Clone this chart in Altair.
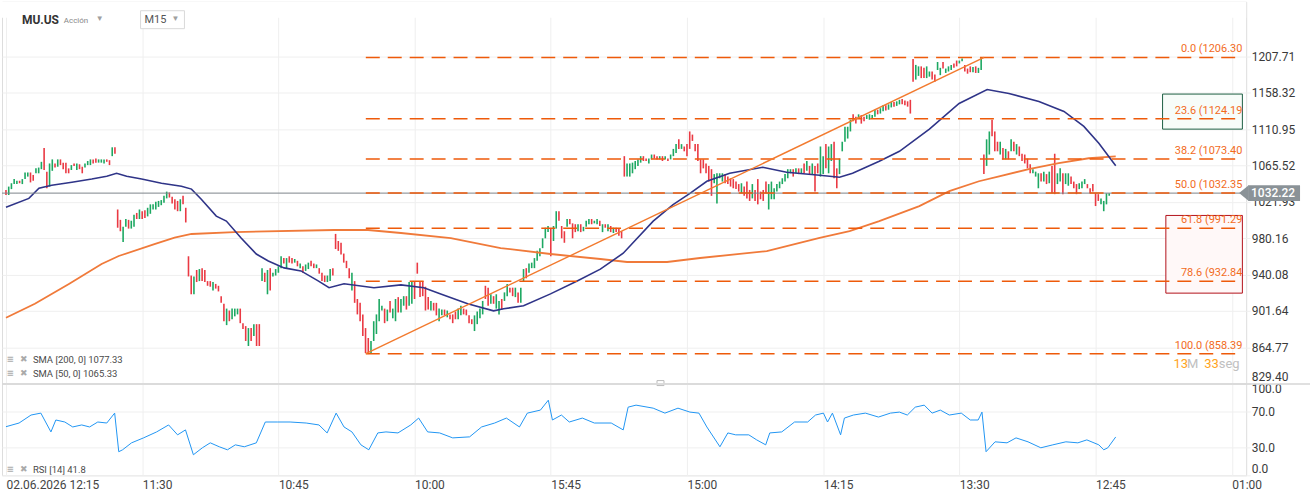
import json
import altair as alt
import pandas as pd

# ---------------- values ----------------
# 15-minute candles (open, close), in bar order
opens = [
    # session 1
    1036, 1030, 1037, 1043, 1043, 1047, 1043, 1049, 1052, 1057, 1054, 1056, 1056, 1061, 1087, 1058, 1040, 1059, 1068, 1064,
    1073, 1069, 1069, 1062, 1060, 1068, 1060, 1067, 1064, 1063, 1066, 1066, 1073, 1074, 1069, 1069, 1068, 1073, 1072, 1077, 1088,
    # session 2
    1013, 1001, 976, 993, 1001, 991, 993, 1009, 1002, 1011, 1012, 1005, 1008, 1013, 1013, 1016, 1018, 1021, 1026, 1033,
    1028, 1025, 1023, 1011, 1029, 1015,
    # session 3
    960, 939, 919, 945, 933, 947, 945, 933, 933, 923, 930, 928, 917, 909, 887, 902, 893, 896, 898, 904, 889, 886, 866, 884,
    876, 888, 888,
    # session 4
    933, 942, 919, 947, 938, 939, 942, 947, 958, 947, 960, 958, 953, 955, 947, 949, 944, 946, 955, 952, 947, 947, 942, 939,
    932, 933, 947,
    # session 5
    985, 977, 975, 963, 955, 947, 923, 933, 914, 910, 898, 884, 874, 859, 871, 878, 891, 902, 904, 891, 912, 894, 891, 916,
    900, 907, 917, 907, 909, 933, 953, 933, 933, 927, 916, 902, 910, 910, 891, 897, 903, 895,
    898, 898, 901, 893, 897, 904, 903, 897, 893, 881, 888, 894, 898, 928, 926, 909, 917, 904, 898, 914, 912, 917, 926, 926,
    916, 921, 910, 933, 947, 942, 947, 947, 955, 960, 969, 980, 987, 991, 977, 991, 1011, 994, 988, 993, 1002, 997, 996, 988,
    996, 988, 993, 996, 1002, 997, 996, 1000, 987, 996, 988, 994, 986, 992, 991, 988,
    # session 6
    1077, 1052, 1052, 1056, 1061, 1065, 1069, 1077, 1074, 1068, 1073, 1079, 1077, 1073, 1077, 1073, 1074, 1073, 1077, 1081,
    1098, 1086, 1089, 1092, 1108, 1104, 1092, 1092, 1073, 1073, 1068, 1065, 1061, 1044, 1020, 1050, 1046, 1055, 1052, 1050,
    1049, 1046, 1043, 1032, 1040, 1046, 1036, 1026, 1036, 1049, 1034, 1036, 1046, 1013, 1025, 1025, 1034, 1038, 1043, 1046,
    1050, 1056, 1061, 1056, 1062, 1056, 1068, 1059, 1065, 1055, 1065, 1068, 1052, 1055, 1092, 1056, 1071, 1095, 1062, 1055,
    1083, 1095, 1099, 1108, 1130, 1127, 1124, 1129, 1127, 1124, 1123, 1124,
    1127, 1136, 1131, 1134, 1142, 1136, 1139, 1146, 1141, 1143, 1150, 1148, 1147, 1149,
    # session 7
    1204, 1176, 1181, 1194, 1192, 1178, 1180, 1187, 1183, 1189, 1182, 1200, 1185, 1187, 1189, 1198, 1202, 1198, 1201, 1196,
    1191, 1194, 1186, 1194, 1185, 1189,
    # session 8
    1079, 1065, 1079, 1123, 1108, 1095, 1079, 1087, 1073, 1083, 1083, 1095, 1079, 1089, 1080, 1079, 1074, 1067, 1056, 1052,
    1038, 1056, 1046, 1055, 1044, 1065, 1080, 1043, 1046, 1056, 1043, 1041, 1052, 1046, 1043, 1037, 1038, 1043, 1043, 1038,
    1043, 1032, 1031, 1019, 1011, 1019, 1029,
]
closes = [
    # session 1
    1030, 1040, 1044, 1049, 1047, 1044, 1049, 1057, 1057, 1045, 1047, 1062, 1063, 1070, 1060, 1038, 1068, 1073, 1063, 1073,
    1066, 1061, 1056, 1056, 1066, 1065, 1068, 1061, 1056, 1068, 1071, 1073, 1068, 1069, 1073, 1073, 1073, 1070, 1066, 1088, 1080,
    # session 2
    992, 988, 993, 1002, 991, 1000, 1007, 1002, 1013, 1002, 1003, 1015, 1019, 1019, 1022, 1023, 1024, 1029, 1034, 1027,
    1020, 1013, 1011, 1025, 1019, 998,
    # session 3
    938, 919, 938, 932, 946, 933, 932, 928, 927, 932, 925, 922, 910, 891, 904, 891, 904, 904, 904, 889, 883, 871, 884, 871,
    888, 866, 866,
    # session 4
    947, 932, 945, 923, 942, 946, 949, 960, 952, 958, 953, 952, 957, 949, 952, 942, 951, 953, 949, 947, 951, 941, 933, 932,
    939, 946, 939,
    # session 5
    968, 966, 962, 953, 947, 936, 942, 910, 898, 891, 876, 859, 858, 871, 891, 898, 914, 907, 889, 903, 900, 904, 914, 900,
    914, 917, 903, 932, 933, 914, 941, 916, 917, 902, 903, 912, 902, 897, 904, 903, 897, 902,
    893, 889, 893, 904, 907, 898, 897, 889, 888, 897, 901, 904, 912, 914, 907, 919, 909, 919, 912, 903, 921, 930, 921, 917,
    926, 910, 926, 946, 936, 952, 953, 958, 966, 969, 980, 992, 994, 960, 994, 1011, 1000, 980, 975, 1002, 996, 980, 987, 996,
    987, 993, 1000, 1002, 996, 1000, 1002, 994, 996, 992, 996, 987, 992, 987, 983, 980,
    # session 6
    1052, 1068, 1068, 1069, 1071, 1073, 1077, 1071, 1071, 1074, 1079, 1074, 1073, 1077, 1071, 1077, 1071, 1079, 1086, 1092,
    1086, 1092, 1083, 1077, 1086, 1096, 1083, 1071, 1056, 1062, 1056, 1046, 1029, 1055, 1056, 1056, 1056, 1044, 1043, 1040,
    1038, 1037, 1034, 1044, 1029, 1026, 1023, 1043, 1023, 1019, 1025, 1023, 1032, 1043, 1046, 1038, 1043, 1046, 1050, 1055,
    1061, 1061, 1052, 1062, 1055, 1062, 1056, 1071, 1055, 1068, 1034, 1056, 1089, 1077, 1062, 1089, 1092, 1050, 1038, 1074,
    1095, 1114, 1114, 1123, 1121, 1118, 1130, 1118, 1121, 1129, 1130, 1129,
    1136, 1130, 1138, 1142, 1135, 1143, 1146, 1140, 1147, 1149, 1143, 1142, 1140, 1131,
    # session 7
    1173, 1196, 1194, 1178, 1178, 1194, 1187, 1176, 1173, 1200, 1192, 1191, 1191, 1194, 1196, 1192, 1194, 1202, 1205, 1187,
    1184, 1186, 1193, 1185, 1192, 1206,
    # session 8
    1055, 1098, 1108, 1102, 1083, 1083, 1095, 1073, 1086, 1073, 1098, 1083, 1092, 1077, 1071, 1068, 1062, 1056, 1061, 1058,
    1056, 1046, 1058, 1043, 1058, 1032, 1031, 1056, 1062, 1031, 1056, 1056, 1043, 1038, 1031, 1044, 1046, 1049, 1038, 1032,
    1034, 1017, 1023, 1026, 1023, 1032, 1032,
]

# moving averages (bar position, price)
sma200_i = [0, 10.6, 23.1, 35.1, 41.4, 54.5, 61.9, 68.1, 83.8, 120.4, 132.9, 145, 163.3, 181.6, 199.9, 218.2, 228,
            242.7, 254.8, 279.3, 298.7, 309.7, 320.6, 335.3, 346.3, 357.2, 364.6, 375.5, 386.5, 397.5, 407.4]
sma200_v = [894.5, 909, 930, 951.5, 960.3, 973.6, 980.8, 984.9, 987, 989.4, 989.4, 986, 980.2, 969.1, 962.5, 957, 953.7,
            953.7, 958.1, 965.8, 980.5, 988.2, 999.6, 1016.9, 1034.5, 1046.4, 1052.4, 1061, 1068.3, 1074.4, 1076.8]
sma50_i = [0, 8.4, 12.1, 16.8, 24.2, 31.5, 37, 40.6, 44.3, 49.8, 57.1, 64.4, 68.1, 71.7, 77.2, 80.9, 86.4, 91.9, 96.3,
           102.1, 108.3, 114.6, 118.6, 124.1, 135.1, 145, 153.4, 159.6, 169.5, 179, 182.7, 190, 199.9, 209.7, 218.2,
           226.6, 237.6, 244.9, 251.1, 257.3, 265.7, 277.8, 286.6, 298.7, 306, 310.8, 320.6, 328, 339, 349.9, 360.2,
           368.2, 379.2, 388.4, 395.7, 401.2, 407.4]
sma50_v = [1015.7, 1026, 1038, 1041.7, 1045.2, 1049, 1052.4, 1056, 1052.4, 1049, 1044, 1040.5, 1037, 1025, 1005.3,
           999.6, 980.1, 962.5, 954.8, 947.3, 944, 933.2, 925.9, 930.1, 925.9, 929, 925.9, 919.4, 909, 901.7, 903.8,
           906.9, 919.4, 933.2, 945.9, 963.4, 999.6, 1018.6, 1032, 1046.4, 1056, 1063.4, 1057.3, 1053.6, 1051.2, 1056,
           1070.7, 1083, 1111, 1144.2, 1162.6, 1157.3, 1146.8, 1133.8, 1114.5, 1093, 1065.3]

# RSI(14)
rsi_i = [0, 4.8, 9.2, 12.8, 16.5, 18.3, 21.6, 24.5, 27.8, 30.7, 33.7, 37, 39.9, 41.4, 42.8, 46.1, 50.5, 55.3, 59.7, 63,
         65.9, 68.8, 72.1, 75, 78.3, 81.3, 84.2, 87.5, 91.9, 95.2, 99.6, 104.3, 110.2, 114.9, 117.9, 121.2, 124.1, 127,
         130.3, 133.2, 136.5, 139.5, 143.9, 148.6, 151.5, 154.8, 159.2, 164, 170.2, 174.6, 179.4, 183.7, 188.5, 191.4,
         196.2, 199.1, 200.6, 203.9, 206.8, 211.6, 216, 222.2, 226.6, 228.4, 231.3, 237.6, 241.9, 246.7, 251.1, 254.4,
         257.3, 262.1, 265, 267.9, 272.7, 275.6, 278.9, 280.4, 284.8, 289.5, 294.3, 297.2, 300.1, 301.6, 303.4, 306.4,
         307.8, 311.1, 315.5, 320.3, 324.7, 328, 330.9, 333.8, 337.1, 340, 343, 346.3, 350.7, 354, 356.9, 358.3, 359.8,
         363.1, 367.5, 370.8, 375.2, 379.9, 384.3, 389.1, 393.5, 396.8, 401.2, 403, 404.5, 407.4]
rsi_v = [53.0, 57.0, 65.7, 67.8, 47.3, 60.3, 58.1, 52.7, 54.9, 52.7, 58.1, 57.0, 67.8, 25.7, 27.8, 35.4, 40.8, 47.3,
         54.9, 44.1, 49.5, 22.4, 30.0, 35.4, 31.1, 27.8, 33.2, 31.1, 35.4, 58.1, 58.1, 58.1, 57.0, 54.9, 46.2, 67.8,
         52.7, 47.3, 33.2, 27.8, 46.2, 47.3, 46.2, 54.9, 62.4, 47.3, 46.2, 40.8, 41.9, 52.7, 57.0, 62.4, 52.7, 67.8,
         71.1, 81.9, 60.3, 65.7, 58.1, 62.4, 57.0, 57.0, 49.5, 74.3, 76.5, 73.2, 67.8, 73.2, 68.9, 67.8, 52.7, 31.1,
         46.2, 44.1, 44.1, 38.6, 33.2, 46.2, 47.3, 58.1, 58.1, 65.7, 67.8, 58.1, 67.8, 44.1, 62.4, 65.7, 67.8, 63.5,
         67.8, 68.9, 65.7, 74.3, 76.5, 67.8, 71.1, 65.7, 67.8, 60.3, 60.3, 68.9, 25.7, 36.5, 35.4, 40.8, 36.5, 30.0,
         33.2, 36.5, 35.4, 38.6, 33.2, 27.8, 30.0, 41.8]

# Fibonacci retracement
fib_levels = [1206.30, 1124.19, 1073.40, 1032.35, 991.29, 932.84, 858.39]
fib_texts = ["0.0 (1206.30", "23.6 (1124.19", "38.2 (1073.40", "50.0 (1032.35", "61.8 (991.29", "78.6 (932.84",
             "100.0 (858.39"]
fib_from_i, fib_to_i = 132.1, 453.9
trend_i = [132.1, 359.1]
trend_v = [858.39, 1206.30]
last_price = 1032.22
green_box_i = [424.6, 453.9]
green_box_v = [1110.95, 1156.6]
red_box_i = [425.8, 453.9]
red_box_v = [920.2, 1006.1]

# axes
price_ticks = [829.40, 864.77, 901.64, 940.08, 980.16, 1021.93, 1065.52, 1110.95, 1158.32, 1207.71]
rsi_ticks = [0, 30, 70, 100]
time_ticks = [0, 50, 100, 150, 200, 250, 300, 350, 400, 450]
time_labels = ["02.06.2026 12:15", "11:30", "10:45", "10:00", "15:45", "15:00", "14:15", "13:30", "12:45", "01:00"]

# ---------------- styling ----------------
UP, DOWN = "#1da862", "#ea3943"
GRID = "#efefef"
FIB = "#ee5a0a"
FIBTXT = "#f26b1d"
TAG = "#8a9297"
FONT = "Roboto"
W, H_MAIN, H_RSI = 1248, 383, 92

bars = pd.DataFrame({"i": list(range(len(opens))), "open": opens, "close": closes})
bars["dir"] = ["up" if c >= o else "down" for o, c in zip(opens, closes)]

xscale = alt.Scale(domain=[-1.464, 455.3], nice=False, zero=False)
yscale = alt.Scale(type="log", domain=[829.4, 1286.0], nice=False, zero=False)
rscale = alt.Scale(domain=[0, 100], nice=False, zero=False)

xax_main = alt.Axis(values=time_ticks, grid=True, gridColor=GRID, labels=False, ticks=False, domain=False, title=None)
yax_main = alt.Axis(orient="right", values=price_ticks, format=".2f", grid=True, gridColor=GRID, domain=False,
                    ticks=True, tickColor=GRID, tickSize=4, labelPadding=1, labelFlush=True, labelColor="#3a3a3a",
                    labelFont=FONT, labelFontSize=12, labelOverlap=False, title=None)


def X(f):
    return alt.X(f, scale=xscale, axis=xax_main)


def Y(f):
    return alt.Y(f, scale=yscale, axis=yax_main)


def label(text, x, y, size=10, color="#555", weight="normal", align="left"):
    return alt.Chart(pd.DataFrame({"t": [text]})).mark_text(
        align=align, baseline="middle", font=FONT, fontSize=size, color=color, fontWeight=weight
    ).encode(x=alt.value(x), y=alt.value(y), text="t:N")


def box(x0, x1, y0, y1, fill, stroke=None):
    kw = {"fill": fill}
    if stroke:
        kw.update(stroke=stroke, strokeWidth=1)
    return alt.Chart(pd.DataFrame({"a": [0]})).mark_rect(**kw).encode(
        x=alt.value(x0), x2=alt.value(x1), y=alt.value(y0), y2=alt.value(y1))


rects = pd.DataFrame({"i0": [green_box_i[0], red_box_i[0]], "i1": [green_box_i[1], red_box_i[1]],
                      "p0": [green_box_v[0], red_box_v[0]], "p1": [green_box_v[1], red_box_v[1]],
                      "k": ["g", "r"]})
rect_layer = alt.Chart(rects).mark_rect(strokeWidth=1).encode(
    x=X("i0:Q"), x2="i1:Q", y=Y("p0:Q"), y2="p1:Q",
    fill=alt.Fill("k:N", scale=alt.Scale(domain=["g", "r"], range=["#f7fcf9", "#fff8f8"]), legend=None),
    stroke=alt.Stroke("k:N", scale=alt.Scale(domain=["g", "r"], range=["#1d5e43", "#b3121b"]), legend=None),
)

candles = alt.Chart(bars).mark_rule(strokeWidth=1.6).encode(
    x=X("i:Q"), y=Y("open:Q"), y2="close:Q",
    color=alt.Color("dir:N", scale=alt.Scale(domain=["up", "down"], range=[UP, DOWN]), legend=None),
)

sma200 = alt.Chart(pd.DataFrame({"i": sma200_i, "p": sma200_v})).mark_line(
    color="#f07a3a", strokeWidth=1.8).encode(x=X("i:Q"), y=Y("p:Q"))
sma50 = alt.Chart(pd.DataFrame({"i": sma50_i, "p": sma50_v})).mark_line(
    color="#2f3488", strokeWidth=1.6).encode(x=X("i:Q"), y=Y("p:Q"))

price_line = alt.Chart(pd.DataFrame({"p": [last_price]})).mark_rule(color="#7c858b", strokeWidth=1).encode(
    x=alt.value(0), x2=alt.value(W), y=Y("p:Q"))

fib_df = pd.DataFrame({"p": fib_levels, "t": fib_texts, "a": [fib_from_i] * len(fib_levels),
                       "b": [fib_to_i] * len(fib_levels)})
fib_lines = alt.Chart(fib_df).mark_rule(color=FIB, strokeWidth=1.5, strokeDash=[14, 8]).encode(
    x=X("a:Q"), x2="b:Q", y=Y("p:Q"))
fib_labels = alt.Chart(fib_df).mark_text(
    align="right", baseline="bottom", dy=-3, font=FONT, fontSize=11, color=FIBTXT
).encode(x=X("b:Q"), y=Y("p:Q"), text="t:N")
trend = alt.Chart(pd.DataFrame({"i": trend_i, "p": trend_v})).mark_line(
    color="#f27a2e", strokeWidth=1.4).encode(x=X("i:Q"), y=Y("p:Q"))

tag_df = pd.DataFrame({"p": [last_price], "t": [f"{last_price:.2f}"]})
tag_rect = alt.Chart(tag_df).mark_rect(color=TAG, yOffset=-8, y2Offset=8).encode(
    x=alt.value(1250), x2=alt.value(1302), y=Y("p:Q"), y2="p:Q")
tag_arrow = alt.Chart(tag_df).mark_point(
    shape="M0,-1L-1.2,0L0,1Z", filled=True, size=256, color=TAG, opacity=1, strokeWidth=0
).encode(x=alt.value(1250.5), y=Y("p:Q"))
tag_text = alt.Chart(tag_df).mark_text(
    font=FONT, fontSize=12, color="white", align="center", baseline="middle", fontWeight=500
).encode(x=alt.value(1275), y=Y("p:Q"), text="t:N")

main = alt.layer(
    rect_layer, candles, sma200, sma50, price_line, fib_lines, trend, fib_labels,
    box(0, W, 0, 16, "white"),
    box(139, 183, 9, 27, "white", "#d9d9d9"),
    label("MU.US", 20, 18, size=12, color="#333", weight="bold"),
    label("Acción", 62, 19, size=8, color="#888"),
    label("▼", 94, 17, size=8, color="#a0a0a0"),
    label("M15", 143, 18.5, size=11, color="#555"),
    label("▼", 170, 17.5, size=8, color="#a0a0a0"),
    label("≡", 5, 358, size=12, color="#aaa", weight="bold"),
    label("✖", 18, 358, size=9, color="#aaa"),
    label("SMA [200, 0] 1077.33", 31, 359, size=9.5, color="#4a4a4a"),
    label("≡", 5, 372, size=12, color="#aaa", weight="bold"),
    label("✖", 18, 372, size=9, color="#aaa"),
    label("SMA [50, 0] 1065.33", 31, 373, size=9.5, color="#4a4a4a"),
    label("13", 1175, 363, size=13, color="#ffa31a"),
    label("M", 1188.5, 363, size=13, color="#c0c0c0"),
    label("33", 1206, 363, size=13, color="#ffa31a"),
    label("seg", 1220.5, 363, size=13, color="#c0c0c0"),
    box(657, 664, 380, 385, "white", "#bbbbbb"),
    tag_rect, tag_arrow, tag_text,
).properties(width=W, height=H_MAIN)

lab_expr = json.dumps(time_labels) + "[round(datum.value / 50)]"
xax_rsi = alt.Axis(values=time_ticks, grid=True, gridColor=GRID, labelExpr=lab_expr, labelAlign="left",
                   labelBaseline="top", labelPadding=4, labelFlush=False, labelOverlap=False, labelBound=False,
                   ticks=False, domain=False, labelColor="#444", labelFont=FONT, labelFontSize=12, title=None)
yax_rsi = alt.Axis(orient="right", values=rsi_ticks, format=".1f", grid=True, gridColor=GRID, domain=False,
                   ticks=True, tickColor=GRID, tickSize=4, labelPadding=1, labelFlush=True, labelColor="#3a3a3a",
                   labelFont=FONT, labelFontSize=12, labelOverlap=False, title=None)

rsi_line = alt.Chart(pd.DataFrame({"i": rsi_i, "v": rsi_v})).mark_line(color="#2196f3", strokeWidth=1).encode(
    x=alt.X("i:Q", scale=xscale, axis=xax_rsi), y=alt.Y("v:Q", scale=rscale, axis=yax_rsi))
sep = alt.Chart(pd.DataFrame({"a": [0]})).mark_rule(color="#d6d6d6", strokeWidth=1.5).encode(
    x=alt.value(0), x2=alt.value(1312), y=alt.value(0.5))

rsi = alt.layer(
    rsi_line, sep,
    label("≡", 5, 86, size=12, color="#aaa", weight="bold"),
    label("✖", 18, 86, size=9, color="#aaa"),
    label("RSI [14] 41.8", 31, 86.5, size=9.5, color="#4a4a4a"),
).properties(width=W, height=H_RSI)

chart = alt.VConcatChart(vconcat=[main, rsi], spacing=0, bounds="flush", padding=0).configure_view(
    stroke=None).configure(font=FONT)

chart.save("out.html", embed_options={"renderer": "svg", "actions": False})
